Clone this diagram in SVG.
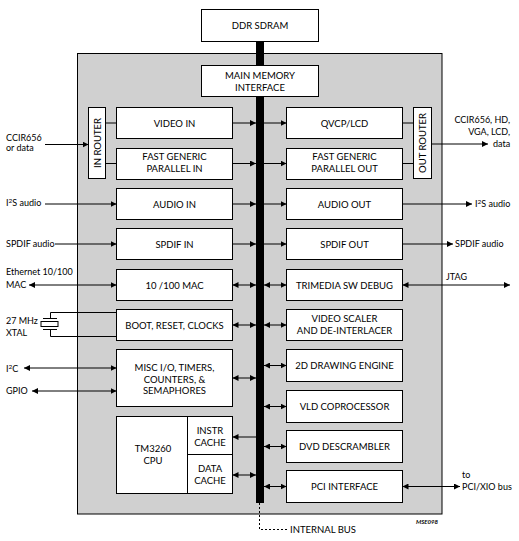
<svg xmlns="http://www.w3.org/2000/svg" width="519" height="541" viewBox="0 0 519 541">
<style>
.box{fill:#fff;stroke:#000;stroke-width:1}
.t{font-family:Lato,"Liberation Sans",sans-serif;font-size:9.5px;fill:#000}
.o{font-size:9px}
.c{text-anchor:middle}
.ln{stroke:#000;stroke-width:1;fill:none}
.a{stroke:#000;stroke-width:1;fill:none;marker-end:url(#ah)}
.d{stroke:#000;stroke-width:1;fill:none;marker-start:url(#ahs);marker-end:url(#ah)}
.s{font-size:6.5px}
</style>
<defs>
<marker id="ah" markerUnits="userSpaceOnUse" markerWidth="7" markerHeight="6" refX="6" refY="3" orient="auto">
<path d="M0,0 L6,3 L0,6 Z" fill="#000"/>
</marker>
<marker id="ahs" markerUnits="userSpaceOnUse" markerWidth="7" markerHeight="6" refX="0" refY="3" orient="auto">
<path d="M6,0 L0,3 L6,6 Z" fill="#000"/>
</marker>
</defs>
<rect id="chip" x="77.5" y="53.5" width="364.5" height="460.5" fill="#d0d0d0" stroke="#000"/>
<g id="ddr"><rect class="box" x="201.5" y="9.5" width="117" height="32"/><text class="t c" x="260" y="29">DDR SDRAM</text></g>
<g id="bus"><rect x="256" y="41" width="8" height="462" fill="#000"/><path class="ln" d="M259.5,503 V529.5 H288" stroke-dasharray="2,2"/><text class="t" x="290" y="533">INTERNAL BUS</text></g>
<g id="mmi"><rect class="box" x="201.5" y="65.5" width="117" height="31"/><text class="t c" x="260" y="79">MAIN MEMORY</text><text class="t c" x="260" y="91">INTERFACE</text></g>
<g id="inrouter"><rect class="box" x="88.5" y="107.5" width="17" height="71"/><text class="t c" transform="translate(100.5,143) rotate(-90)">IN ROUTER</text></g>
<g id="videoin"><rect class="box" x="116.5" y="107.5" width="116" height="31"/><text class="t c" x="174.5" y="127">VIDEO IN</text></g>
<g id="fgpin"><rect class="box" x="116.5" y="148.5" width="116" height="31"/><text class="t c" x="174.5" y="160">FAST GENERIC</text><text class="t c" x="174.5" y="172">PARALLEL IN</text></g>
<g id="qvcp"><rect class="box" x="286.5" y="107.5" width="116" height="31"/><text class="t c" x="344.5" y="127">QVCP/LCD</text></g>
<g id="fgpout"><rect class="box" x="286.5" y="148.5" width="116" height="31"/><text class="t c" x="344.5" y="160">FAST GENERIC</text><text class="t c" x="344.5" y="172">PARALLEL OUT</text></g>
<g id="outrouter"><rect class="box" x="413.5" y="107.5" width="18" height="71"/><text class="t c" transform="translate(426,143) rotate(-90)">OUT ROUTER</text></g>
<g id="audioin"><rect class="box" x="116.5" y="188.5" width="116" height="31"/><text class="t c" x="174.5" y="207.5">AUDIO IN</text></g>
<g id="spdifin"><rect class="box" x="116.5" y="228.5" width="116" height="31"/><text class="t c" x="174.5" y="247.5">SPDIF IN</text></g>
<g id="mac"><rect class="box" x="116.5" y="269.5" width="116" height="31"/><text class="t c" x="174.5" y="288.5">10 /100 MAC</text></g>
<g id="boot"><rect class="box" x="116.5" y="309.5" width="116" height="31"/><text class="t c" x="174.5" y="328.5">BOOT, RESET, CLOCKS</text></g>
<g id="misc"><rect class="box" x="116.5" y="349.5" width="116" height="57"/><text class="t c" x="174.5" y="371">MISC I/O, TIMERS,</text><text class="t c" x="174.5" y="382.5">COUNTERS, &amp;</text><text class="t c" x="174.5" y="394">SEMAPHORES</text></g>
<g id="cpu"><rect class="box" x="116.5" y="416.5" width="116" height="77"/><line class="ln" x1="187.5" y1="416.5" x2="187.5" y2="493.5"/><line class="ln" x1="187.5" y1="454.5" x2="232.5" y2="454.5"/><text class="t c" x="153" y="452">TM3260</text><text class="t c" x="153" y="463.5">CPU</text></g>
<g id="icache"><text class="t c" x="210" y="434">INSTR</text><text class="t c" x="210" y="446">CACHE</text></g>
<g id="dcache"><text class="t c" x="210" y="472">DATA</text><text class="t c" x="210" y="483.5">CACHE</text></g>
<g id="audioout"><rect class="box" x="286.5" y="188.5" width="116" height="31"/><text class="t c" x="344.5" y="207.5">AUDIO OUT</text></g>
<g id="spdifout"><rect class="box" x="286.5" y="228.5" width="116" height="31"/><text class="t c" x="344.5" y="247.5">SPDIF OUT</text></g>
<g id="debug"><rect class="box" x="286.5" y="269.5" width="116" height="31"/><text class="t c" x="344.5" y="288.5">TRIMEDIA SW DEBUG</text></g>
<g id="scaler"><rect class="box" x="286.5" y="309.5" width="116" height="31"/><text class="t c" x="344.5" y="322">VIDEO SCALER</text><text class="t c" x="344.5" y="334">AND DE-INTERLACER</text></g>
<g id="drawing"><rect class="box" x="286.5" y="349.5" width="116" height="32"/><text class="t c" x="344.5" y="369">2D DRAWING ENGINE</text></g>
<g id="vld"><rect class="box" x="286.5" y="390.5" width="116" height="32"/><text class="t c" x="344.5" y="410">VLD COPROCESSOR</text></g>
<g id="dvd"><rect class="box" x="286.5" y="430.5" width="116" height="32"/><text class="t c" x="344.5" y="450">DVD DESCRAMBLER</text></g>
<g id="pci"><rect class="box" x="286.5" y="470.5" width="116" height="32"/><text class="t c" x="344.5" y="490">PCI INTERFACE</text></g>
<g id="xtal"><path class="ln" d="M116,312.5 H50.5 V318 M43,318.5 H57 M43,329.5 H57 M50.5,330 V336.5 H116"/><rect x="41" y="321.5" width="17" height="5" fill="#fff" stroke="#000"/></g>
<g id="labels">
<text class="t o" x="6" y="141">CCIR656</text><text class="t o" x="6" y="151">or data</text>
<text class="t o" x="510" y="123" text-anchor="end">CCIR656, HD,</text><text class="t o" x="510" y="135" text-anchor="end">VGA, LCD,</text><text class="t o" x="493" y="147">data</text>
<text class="t o" x="6" y="206">I<tspan class="s" dy="-3.5">2</tspan><tspan dy="3.5">S audio</tspan></text>
<text class="t o" x="6" y="247">SPDIF audio</text>
<text class="t o" x="6" y="275">Ethernet 10/100</text><text class="t o" x="6" y="288">MAC</text>
<text class="t o" x="6" y="324">27 MHz</text><text class="t o" x="6" y="336">XTAL</text>
<text class="t o" x="6" y="372">I<tspan class="s" dy="-3.5">2</tspan><tspan dy="3.5">C</tspan></text>
<text class="t o" x="6" y="394">GPIO</text>
<text class="t o" x="475" y="207">I<tspan class="s" dy="-3.5">2</tspan><tspan dy="3.5">S audio</tspan></text>
<text class="t o" x="455" y="247">SPDIF audio</text>
<text class="t o" x="446" y="280">JTAG</text>
<text class="t o" x="462" y="478">to</text><text class="t o" x="462" y="490">PCI/XIO bus</text>
<text x="416" y="524" font-family="Lato,'Liberation Sans',sans-serif" font-size="6px" font-style="italic" font-weight="bold">MSE098</text>
</g>
<g id="connectors">
<line class="a" x1="45" y1="144.5" x2="88.5" y2="144.5"/>
<line class="ln" x1="105.5" y1="123" x2="116.5" y2="123"/>
<line class="ln" x1="105.5" y1="163.5" x2="116.5" y2="163.5"/>
<line class="a" x1="232.5" y1="123" x2="256" y2="123"/>
<line class="a" x1="232.5" y1="163.5" x2="256" y2="163.5"/>
<line class="a" x1="264" y1="123" x2="286.5" y2="123"/>
<line class="a" x1="264" y1="163.5" x2="286.5" y2="163.5"/>
<line class="ln" x1="402.5" y1="123" x2="413.5" y2="123"/>
<line class="ln" x1="402.5" y1="163.5" x2="413.5" y2="163.5"/>
<line class="a" x1="431.5" y1="144" x2="488" y2="144"/>
<line class="a" x1="45" y1="204" x2="116.5" y2="204"/>
<line class="a" x1="55" y1="244" x2="116.5" y2="244"/>
<line class="d" x1="29" y1="285" x2="116.5" y2="285"/>
<line class="d" x1="24" y1="368" x2="116.5" y2="368"/>
<line class="d" x1="32" y1="391" x2="116.5" y2="391"/>
<line class="a" x1="232.5" y1="204" x2="256" y2="204"/>
<line class="a" x1="232.5" y1="244" x2="256" y2="244"/>
<line class="d" x1="232.5" y1="285" x2="256" y2="285"/>
<line class="d" x1="232.5" y1="325" x2="256" y2="325"/>
<line class="d" x1="232.5" y1="378" x2="256" y2="378"/>
<line class="a" x1="256" y1="437" x2="232.5" y2="437"/>
<line class="d" x1="232.5" y1="475" x2="256" y2="475"/>
<line class="a" x1="264" y1="204" x2="286.5" y2="204"/>
<line class="a" x1="264" y1="244" x2="286.5" y2="244"/>
<line class="d" x1="264" y1="285" x2="286.5" y2="285"/>
<line class="d" x1="264" y1="325" x2="286.5" y2="325"/>
<line class="d" x1="264" y1="365.5" x2="286.5" y2="365.5"/>
<line class="d" x1="264" y1="406.5" x2="286.5" y2="406.5"/>
<line class="d" x1="264" y1="446.5" x2="286.5" y2="446.5"/>
<line class="d" x1="264" y1="486.5" x2="286.5" y2="486.5"/>
<line class="a" x1="402.5" y1="204" x2="472" y2="204"/>
<line class="a" x1="402.5" y1="244" x2="453" y2="244"/>
<line class="d" x1="402.5" y1="285" x2="510" y2="285"/>
<line class="d" x1="402.5" y1="486.5" x2="460" y2="486.5"/>
</g>
</svg>
